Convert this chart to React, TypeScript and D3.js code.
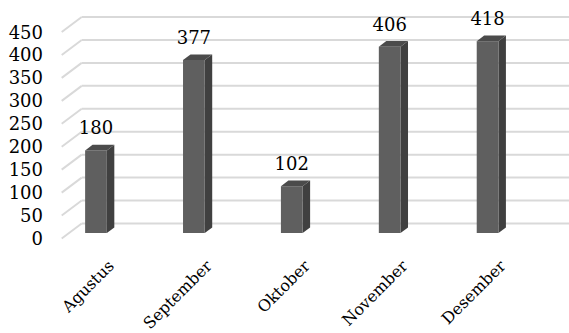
import React from "react";
import * as d3 from "d3";

const categories = ["Agustus", "September", "Oktober", "November", "Desember"];
const values = [180, 377, 102, 406, 418];
const yTicks = [0, 50, 100, 150, 200, 250, 300, 350, 400, 450];

const W = 569;
const H = 333;
// depth projection: (dx, dy) from back wall to the front of the floor
const DEPTH_DX = -20;
const DEPTH_DY = 15;
const BAR_FRONT = 0.633; // fraction of depth toward front
const BAR_BACK = 0.26;

export default function App() {
  const y = d3.scaleLinear().domain([0, 450]).range([223.5, 17]);
  const x = d3
    .scaleBand<string>()
    .domain(categories)
    .range([59.7, 549.2])
    .paddingInner(0.778)
    .paddingOuter(0.389);
  const bw = x.bandwidth();
  const fdx = DEPTH_DX * BAR_FRONT;
  const fdy = DEPTH_DY * BAR_FRONT;
  const bdx = DEPTH_DX * BAR_BACK;
  const bdy = DEPTH_DY * BAR_BACK;
  const wallLeft = 81.7;
  const font = "'DejaVu Serif', serif";
  const grid = "#d9d9d9";

  return (
    <svg
      width={W}
      height={H}
      style={{ position: "absolute", left: 0, top: 0, background: "#fff" }}
    >
      {yTicks.map((t) => (
        <g key={t}>
          <line
            x1={wallLeft}
            x2={W + 2}
            y1={y(t)}
            y2={y(t)}
            stroke={grid}
            strokeWidth={2}
          />
          <line
            x1={wallLeft + DEPTH_DX}
            y1={y(t) + DEPTH_DY}
            x2={wallLeft}
            y2={y(t)}
            stroke={grid}
            strokeWidth={2}
          />
          <text
            x={43}
            y={y(t) + DEPTH_DY}
            textAnchor="end"
            dominantBaseline="central"
            fontFamily={font}
            fontSize={18}
            fill="#000"
          >
            {t}
          </text>
        </g>
      ))}
      {categories.map((c, i) => {
        const v = values[i];
        const X = x(c)!;
        const fx0 = X + fdx;
        const fx1 = X + bw + fdx;
        const fyTop = y(v) + fdy;
        const fyBot = y(0) + fdy;
        const bx1 = X + bw + bdx;
        const bx0 = X + bdx;
        const byTop = y(v) + bdy;
        const byBot = y(0) + bdy;
        const cx = fx0 + bw / 2;
        return (
          <g key={c}>
            <polygon
              points={`${fx1},${fyTop} ${bx1},${byTop} ${bx1},${byBot} ${fx1},${fyBot}`}
              fill="#404040"
            />
            <polygon
              points={`${fx0},${fyTop} ${bx0},${byTop} ${bx1},${byTop} ${fx1},${fyTop}`}
              fill="#4b4b4b"
            />
            <rect
              x={fx0}
              y={fyTop}
              width={bw}
              height={fyBot - fyTop}
              fill="#5f5f5f"
            />
            <text
              x={cx}
              y={fyTop - 16}
              textAnchor="middle"
              fontFamily={font}
              fontSize={18}
              fill="#000"
            >
              {v}
            </text>
            <text
              transform={`translate(${cx + 19},${267}) rotate(-45)`}
              textAnchor="end"
              fontFamily={font}
              fontSize={16}
              fill="#000"
            >
              {c}
            </text>
          </g>
        );
      })}
    </svg>
  );
}
